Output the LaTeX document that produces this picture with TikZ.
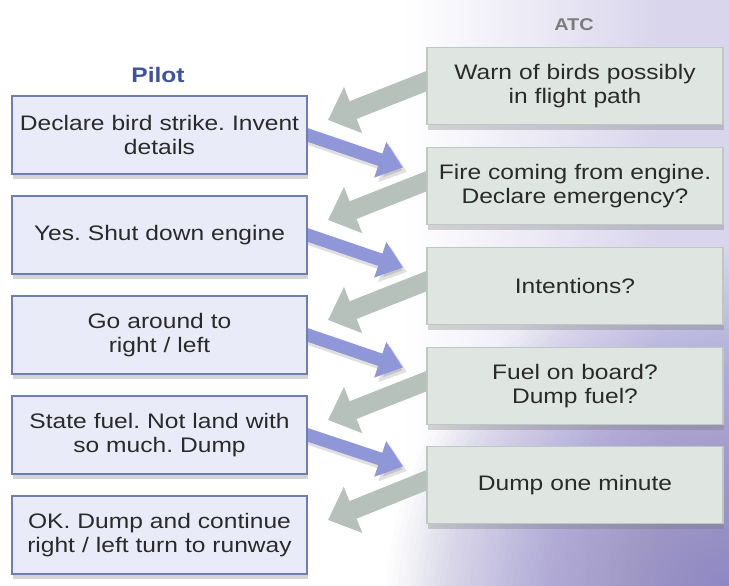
\documentclass[tikz,border=0pt]{standalone}
\usepackage{fontspec}
\setmainfont{Liberation Sans}[FakeStretch=1.17]
\usetikzlibrary{arrows.meta,shadows,calc}
\definecolor{pilotfill}{HTML}{E9ECF8}
\definecolor{pilotdraw}{HTML}{6C7FB4}
\definecolor{atcfill}{HTML}{DFE5E1}
\definecolor{atcdraw}{HTML}{BFC7C2}
\definecolor{greyarrow}{HTML}{B7C1BB}
\definecolor{bluearrow}{HTML}{8F97D9}
\definecolor{pilottext}{HTML}{3D52A0}
\definecolor{atctext}{HTML}{7B7B7B}
\definecolor{bgpurple}{HTML}{8A80C4}
\definecolor{bglav}{HTML}{D8D5EC}
\definecolor{bodytext}{HTML}{2A2A2A}
\tikzset{
  boxbase/.style={rectangle, inner sep=0pt, text width=285pt, align=center,
    text=bodytext, font=\fontsize{21}{24}\selectfont,
    drop shadow={shadow xshift=1pt, shadow yshift=-5pt, opacity=0.3, fill=black!55}},
  pbox/.style={boxbase, fill=pilotfill, draw=pilotdraw, line width=1.1pt,
    minimum width=295pt, minimum height=78pt},
  abox/.style={boxbase, fill=atcfill, draw=atcdraw, line width=1.1pt,
    minimum width=296pt, minimum height=77pt},
  greyarr/.style={draw=greyarrow, line width=19pt,
    -{Triangle[width=48pt,length=27pt]}},
  bluearr/.style={draw=bluearrow, line width=13pt,
    -{Triangle[width=36pt,length=24pt]}},
  bluesh/.style={draw=black, opacity=0.12, line width=13pt,
    -{Triangle[width=36pt,length=24pt]}},
  heading/.style={font=\fontsize{21}{24}\selectfont\bfseries}
}
\begin{document}
\frenchspacing
\begin{tikzpicture}[x=1pt,y=-1pt]
\useasboundingbox (0,0) rectangle (729,586);
% background: white, lavender towards the right, purple towards the bottom right
\fill[white] (0,0) rectangle (729,586);
\foreach \k in {0,...,65}{
  \pgfmathtruncatemacro\p{min(100,\k*100/52)}
  \fill[bglav!\p!white] ({400+\k*5},0) rectangle ({406+\k*5},586);
}
\begin{scope}
  \clip (0,0) rectangle (729,586);
  \foreach \r in {360,354,...,6}{
    \fill[bgpurple, opacity=0.025] (745,610) circle (\r);
  }
\end{scope}

% headings
\node[heading, text=pilottext] (pilot) at (158,75) {Pilot};
\node[heading, text=atctext, font=\fontsize{17}{20}\selectfont\bfseries] (atc) at (574,25) {ATC};

% box centres
\path
  (159.5,135) coordinate (pc1) (159.5,235) coordinate (pc2) (159.5,335) coordinate (pc3)
  (159.5,435) coordinate (pc4) (159.5,535) coordinate (pc5)
  (575,86) coordinate (ac1) (575,186) coordinate (ac2) (575,286) coordinate (ac3)
  (575,386) coordinate (ac4) (575,485) coordinate (ac5);

% arrows (behind the boxes)
\foreach \i in {1,...,5}{
  \draw[greyarr] ($(ac\i)+(-138,-9)$) -- ($(pc\i)+(168.5,-15)$);
}
\foreach \i/\j in {1/2,2/3,3/4,4/5}{
  \draw[bluesh] ($(pc\i)+(142,1)$) -- ($(ac\j)+(-168,-14)$);
  \draw[bluearr] ($(pc\i)+(139.5,-3)$) -- ($(ac\j)+(-172,-18.5)$);
}

% pilot boxes
\node[pbox] (p1) at (pc1) {Declare bird strike. Invent\\details};
\node[pbox] (p2) at (pc2) {Yes. Shut down engine};
\node[pbox] (p3) at (pc3) {Go around to\\right / left};
\node[pbox] (p4) at (pc4) {State fuel. Not land with\\so much. Dump};
\node[pbox] (p5) at (pc5) {OK. Dump and continue\\right / left turn to runway};

% ATC boxes
\node[abox] (a1) at (ac1) {Warn of birds possibly\\in flight path};
\node[abox] (a2) at (ac2) {Fire coming from engine.\\Declare emergency?};
\node[abox] (a3) at (ac3) {Intentions?};
\node[abox] (a4) at (ac4) {Fuel on board?\\Dump fuel?};
\node[abox] (a5) at (ac5) {Dump one minute};
\end{tikzpicture}
\end{document}
